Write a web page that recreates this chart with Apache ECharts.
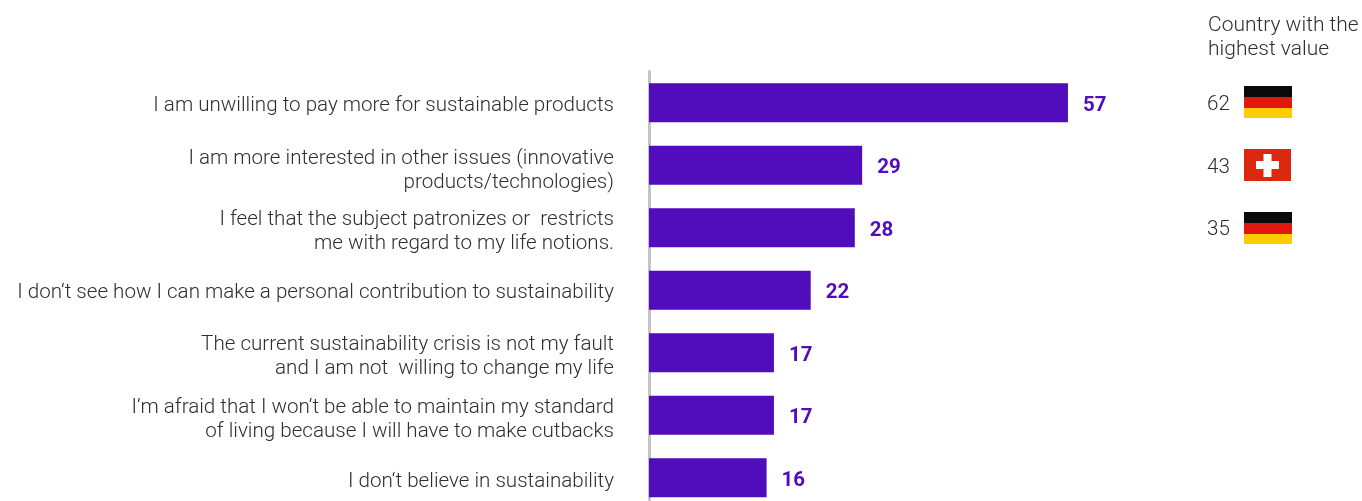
<!DOCTYPE html>
<html><head><meta charset="utf-8">
<style>html,body{margin:0;padding:0;background:#fff}#c{width:1362px;height:501px}</style>
<script src="https://cdn.jsdelivr.net/npm/echarts@6/dist/echarts.min.js"></script>
</head><body><div id="c"></div>
<script>
const categories = [
 "I am unwilling to pay more for sustainable products",
 "I am more interested in other issues (innovative\nproducts/technologies)",
 "I feel that the subject patronizes or  restricts\nme with regard to my life notions.",
 "I don‘t see how I can make a personal contribution to sustainability",
 "The current sustainability crisis is not my fault\nand I am not  willing to change my life",
 "I‘m afraid that I won‘t be able to maintain my standard\nof living because I will have to make cutbacks",
 "I don‘t believe in sustainability"
];
const values = [57,29,28,22,17,17,16];
const topValues = [62,43,35,null,null,null,null];
const topCountries = ["de","ch","de",null,null,null,null];
const labelNudge = [3,6,4,3,4,5,4];
const FONT = 'Roboto';
const TEXT = '#2E2E2E', PURPLE = '#510DBC';
const LABEL = {fontFamily:FONT,fontSize:20.6,fontWeight:300,color:TEXT,lineHeight:24};
const rich = {a:LABEL};
labelNudge.forEach(n=>{rich['s'+n]={fontSize:1,lineHeight:2*n};});
const chart = echarts.init(document.getElementById('c'));
function flagItem(params, api){
  const i = params.dataIndex, v = topValues[i], c = topCountries[i];
  if (v == null) return null;
  const y = api.coord([0, i])[1];
  const kids = [{type:'text',style:{text:String(v),x:1207,y:y+2.5,fill:TEXT,font:'300 20.6px '+FONT,textAlign:'left',textVerticalAlign:'middle'}}];
  const X = 1244, T = y - 16.75 + 0.5*i;
  if (c === 'de') {
    kids.push({type:'rect',shape:{x:X,y:T,width:48,height:11},style:{fill:'#0A0A0A'}});
    kids.push({type:'rect',shape:{x:X,y:T+11,width:48,height:11},style:{fill:'#E2170F'}});
    kids.push({type:'rect',shape:{x:X,y:T+22,width:48,height:10},style:{fill:'#FFCC00'}});
  } else {
    kids.push({type:'rect',shape:{x:X,y:T,width:47,height:32},style:{fill:'#DC2810'}});
    kids.push({type:'rect',shape:{x:X+12,y:T+12,width:23,height:8},style:{fill:'#fff'}});
    kids.push({type:'rect',shape:{x:X+19.5,y:T+5,width:8,height:23},style:{fill:'#fff'}});
  }
  return {type:'group',children:kids};
}
chart.setOption({
  animation:false,
  backgroundColor:'#fff',
  title:{text:'Country with the\nhighest value',left:1208,top:14,padding:0,textStyle:{fontFamily:FONT,fontSize:21,fontWeight:300,color:TEXT,lineHeight:24}},
  grid:{left:649,top:71.5,width:735,height:437.5,outerBoundsMode:'none'},
  xAxis:{type:'value',min:0,max:100,show:false},
  yAxis:{type:'category',inverse:true,data:categories,
    axisLine:{show:true,lineStyle:{color:'#C4C4C4',width:3}},axisTick:{show:false},
    axisLabel:{margin:35,align:'right',interval:0,...LABEL,rich,
      formatter:(v,i)=>`{s${labelNudge[i]}| }\n`+v.split('\n').map(l=>`{a|${l}}`).join('\n')}},
  series:[
   {type:'bar',data:values,barWidth:39,itemStyle:{color:PURPLE},
    label:{show:true,position:'right',distance:15,offset:[0,3],fontFamily:FONT,fontWeight:'bold',fontSize:20.5,color:PURPLE}},
   {type:'custom',data:topValues.map((v,i)=>[0,i]),encode:{x:0,y:1},renderItem:flagItem,clip:false,silent:true}
  ]
});
</script></body></html>
